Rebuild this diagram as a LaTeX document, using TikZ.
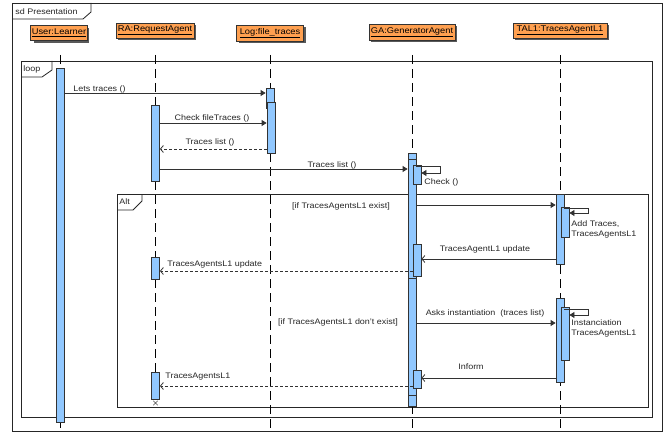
\documentclass[tikz,border=0pt]{standalone}
\usepackage{fontspec}
\setmainfont{Liberation Sans}[FakeStretch=1.12]
\usetikzlibrary{arrows.meta,shapes.misc}
\definecolor{headfill}{RGB}{255,160,80}
\definecolor{barfill}{RGB}{145,200,255}
\definecolor{ln}{RGB}{50,50,50}
\newcommand{\hd}[1]{\textcolor{black}{\underline{#1}}}
\begin{document}
\begin{tikzpicture}[x=1pt,y=-1pt,line width=0.8pt,
  every node/.style={font=\fontsize{8}{9.5}\selectfont, text=black!85},
  head/.style={draw=black!80, fill=headfill, inner sep=1.5pt, minimum height=15pt, text=black,
    font=\fontsize{8.3}{10}\selectfont},
  hshadow/.style={fill=black!65, draw=none},
  bar/.style={draw=black!80, fill=barfill, minimum width=8pt, inner sep=0pt, anchor=north},
  life/.style={draw=black, dash pattern=on 9pt off 5pt},
  frame/.style={draw=black!85},
  call/.style={draw=ln, -{Triangle[length=5pt,width=6pt]}},
  reply/.style={draw=ln, -{Straight Barb[length=3pt,width=7pt]}},
  ret/.style={reply, dash pattern=on 3pt off 2pt},
  lbl/.style={inner sep=0pt},
]
\useasboundingbox (0,0) rectangle (668,433);
% frames
\draw[frame] (12,3) rectangle (662,431);
\draw[frame] (12,19) -- (83,19) -- (91,12) -- (91,3);
\node[lbl, anchor=west] (sd) at (15,11.5) {sd Presentation};
\draw[frame] (21,61) rectangle (652,417);
\draw[frame] (21,77) -- (42,77) -- (52,70) -- (52,61);
\node[lbl, anchor=west] (lp) at (23,69) {loop};
\draw[frame] (117,194) rectangle (648,407);
\draw[frame] (117,210) -- (133,210) -- (142,201) -- (142,194);
\node[lbl, anchor=west] (alt) at (119,202) {Alt};
% head shadows
\fill[hshadow] (33.5,28) rectangle (88.5,43);
\fill[hshadow] (118,25.5) rectangle (196,40.5);
\fill[hshadow] (238.5,27) rectangle (305.5,43);
\fill[hshadow] (371,26) rectangle (457,42);
\fill[hshadow] (515,25.5) rectangle (609,40.5);
% heads
\node[head, minimum width=55pt] (hU) at (59,33) {\hd{User:Learner}};
\node[head, minimum width=78pt] (hR) at (155,30.5) {\hd{RA:RequestAgent}};
\node[head, minimum width=67pt, minimum height=16pt] (hL) at (270,33) {\hd{Log:file\_traces}};
\node[head, minimum width=86pt, minimum height=16pt] (hG) at (412,32) {\hd{GA:GeneratorAgent}};
\node[head, minimum width=94pt] (hT) at (560,30.5) {\hd{TAL1:TracesAgentL1}};
% lifelines
\path (60,0) coordinate (xU) (155.5,0) coordinate (xR) (270,0) coordinate (xL) (412,0) coordinate (xG) (560,0) coordinate (xT);
\draw[life] (xU |- 0,55) -- (xU |- 0,431);
\draw[life] (xL |- 0,55) -- (xL |- 0,431);
\draw[life] (xG |- 0,55) -- (xG |- 0,431);
\draw[life] (xT |- 0,55) -- (xT |- 0,431);
\draw[life] (xR |- 0,55) -- (xR |- 0,400);
% activation bars
\node[bar, minimum height=354pt] (uB) at (60,68) {};
\node[bar, minimum height=20pt] (logA) at (270,88) {};
\node[bar, minimum height=51pt] (logB) at (271,102) {};
\node[bar, minimum height=76pt] (raA) at (155.5,105) {};
\node[bar, minimum height=22pt] (raB) at (155.5,257) {};
\node[bar, minimum height=27pt] (raC) at (155.5,372) {};
\node[bar, minimum height=253pt] (gaA) at (412,153) {};
\node[bar, minimum height=119pt] (gaA2) at (412,159) {};
\node[bar, minimum height=117pt] (gaA3) at (412,278) {};
\node[bar, minimum height=19pt] (gaC) at (417,165) {};
\node[bar, minimum height=32pt] (gaU) at (417,244) {};
\node[bar, minimum height=18pt] (gaI) at (417,370) {};
\node[bar, minimum height=70pt] (tA) at (560,194) {};
\node[bar, minimum height=30pt] (tAs) at (565,207) {};
\node[bar, minimum height=84pt] (tB) at (560,298) {};
\node[bar, minimum height=53pt] (tBs) at (565,307) {};
\node[cross out, draw=black!70, line width=0.5pt, minimum size=4pt, inner sep=0pt] (xd) at (155.5,403) {};
% messages
\draw[call] (uB.east |- 0,93) -- (logA.west |- 0,93);
\node[lbl, anchor=west] (m1) at (73,89) {Lets traces ()};
\draw[call] (raA.east |- 0,123) -- (logB.west |- 0,123);
\node[lbl] (m2) at (212,118.5) {Check fileTraces ()};
\draw[ret] (logB.west |- 0,149) -- (raA.east |- 0,149);
\node[lbl] (m3) at (210,142) {Traces list ()};
\draw[call] (raA.east |- 0,169) -- (gaA.west |- 0,169);
\node[lbl] (m4) at (332,165) {Traces list ()};
\draw[call] (gaA.east |- 0,166) -- ++(24,0) |- (gaC.east |- 0,173);
\node[lbl, anchor=west] (m5) at (424,182) {Check ()};
\node[lbl] (g1) at (341,206) {[if TracesAgentsL1 exist]};
\draw[call] (gaA.east |- 0,205) -- (tA.west |- 0,205);
\draw[call] (tA.east |- 0,208) -- ++(24,0) |- (tAs.east |- 0,213);
\node[lbl, anchor=north west, align=left] (m6) at (571,220) {Add Traces,\\[1pt]TracesAgentsL1};
\draw[reply] (tA.west |- 0,259) -- (gaU.east |- 0,259);
\node[lbl] (m7) at (485,249) {TracesAgentL1 update};
\draw[ret] (gaU.west |- 0,271) -- (raB.east |- 0,271);
\node[lbl, anchor=west] (m8) at (167,264) {TracesAgentsL1 update};
\node[lbl] (g2) at (338,322) {[if TracesAgentsL1 don't exist]};
\draw[call] (gaA.east |- 0,323) -- (tB.west |- 0,323);
\node[lbl] (m9) at (485,313) {Asks instantiation\ \ (traces list)};
\draw[call] (tB.east |- 0,309) -- ++(24,0) |- (tBs.east |- 0,315);
\node[lbl, anchor=north west, align=left] (m10) at (571,319) {Instanciation\\[1pt]TracesAgentsL1};
\draw[reply] (tB.west |- 0,378) -- (gaI.east |- 0,378);
\node[lbl] (m11) at (471,367) {Inform};
\draw[ret] (gaI.west |- 0,386) -- (raC.east |- 0,386);
\node[lbl, anchor=west] (m12) at (165,377) {TracesAgentsL1};
\end{tikzpicture}
\end{document}
